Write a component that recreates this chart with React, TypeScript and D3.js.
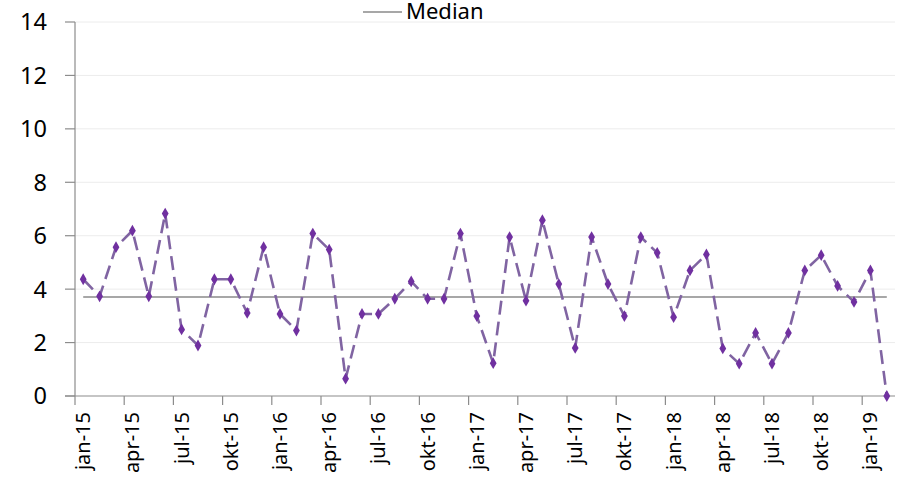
import React from "react";
import * as d3 from "d3";

const months = [
  "jan-15","feb-15","mar-15","apr-15","mai-15","jun-15","jul-15","aug-15","sep-15","okt-15","nov-15","des-15",
  "jan-16","feb-16","mar-16","apr-16","mai-16","jun-16","jul-16","aug-16","sep-16","okt-16","nov-16","des-16",
  "jan-17","feb-17","mar-17","apr-17","mai-17","jun-17","jul-17","aug-17","sep-17","okt-17","nov-17","des-17",
  "jan-18","feb-18","mar-18","apr-18","mai-18","jun-18","jul-18","aug-18","sep-18","okt-18","nov-18","des-18",
  "jan-19","feb-19",
];

const values = [
  4.37, 3.73, 5.57, 6.19, 3.73, 6.83, 2.49, 1.89, 4.37, 4.37, 3.11, 5.57,
  3.07, 2.45, 6.08, 5.48, 0.65, 3.07, 3.07, 3.64, 4.29, 3.64, 3.64, 6.08,
  2.99, 1.23, 5.95, 3.57, 6.58, 4.19, 1.80, 5.95, 4.19, 2.99, 5.95, 5.36,
  2.95, 4.70, 5.30, 1.78, 1.21, 2.36, 1.21, 2.36, 4.70, 5.27, 4.12, 3.52,
  4.70, 0.0,
];

const medianValue = 3.71;
const yTicks = [0, 2, 4, 6, 8, 10, 12, 14];
const tickLabels = months.filter((_, i) => i % 3 === 0);
const legendLabel = "Median";

const W = 900;
const H = 478;
const plotLeft = 75;
const plotRight = 895;
const plotTop = 22;
const plotBottom = 396;

export default function App() {
  const x = d3.scaleBand<string>().domain(months).range([plotLeft, plotRight]).padding(0);
  const cx = (m: string) => (x(m) as number) + x.bandwidth() / 2;
  const y = d3.scaleLinear().domain([0, 14]).range([plotBottom, plotTop]);

  const data = months.map((m, i) => ({ m, v: values[i] }));
  const line = d3
    .line<{ m: string; v: number }>()
    .x((d) => cx(d.m))
    .y((d) => y(d.v));

  const diamond = d3.symbol().type(d3.symbolDiamond).size(40)() as string;
  const font = "'Noto Sans', 'Open Sans', sans-serif";

  return (
    <svg
      width={W}
      height={H}
      style={{ position: "absolute", left: 0, top: 0, display: "block", background: "#fff" }}
    >
      {/* gridlines */}
      {yTicks.slice(1).map((t) => (
        <line key={"g" + t} x1={plotLeft} x2={plotRight} y1={y(t)} y2={y(t)} stroke="#ececec" strokeWidth={1} />
      ))}
      {/* y axis */}
      <line x1={plotLeft} x2={plotLeft} y1={plotTop} y2={plotBottom} stroke="#8c8c8c" strokeWidth={1.2} />
      {yTicks.map((t) => (
        <g key={"y" + t}>
          <line x1={plotLeft - 10} x2={plotLeft} y1={y(t)} y2={y(t)} stroke="#8c8c8c" strokeWidth={1.2} />
          <text x={47} y={y(t)} dy="0.36em" textAnchor="end" fontFamily={font} fontSize={23.5} fill="#000">
            {t}
          </text>
        </g>
      ))}
      {/* x axis */}
      <line x1={plotLeft - 10} x2={plotRight} y1={plotBottom} y2={plotBottom} stroke="#8c8c8c" strokeWidth={1.2} />
      {months.map((m, i) =>
        i % 3 === 0 ? (
          <line key={"xt" + m} x1={x(m) as number} x2={x(m) as number} y1={plotBottom} y2={plotBottom + 9} stroke="#8c8c8c" strokeWidth={1.2} />
        ) : null
      )}
      {tickLabels.map((m) => (
        <text
          key={"xl" + m}
          transform={`translate(${cx(m)},${plotBottom + 16}) rotate(-90)`}
          textAnchor="end"
          dy="0.35em"
          fontFamily={font}
          fontSize={20}
          fill="#000"
        >
          {m}
        </text>
      ))}
      {/* median */}
      <line
        x1={cx(months[0])}
        x2={cx(months[months.length - 1])}
        y1={y(medianValue)}
        y2={y(medianValue)}
        stroke="#8a8a8a"
        strokeWidth={1.5}
      />
      {/* series */}
      <path d={line(data) as string} fill="none" stroke="#8064A2" strokeWidth={2.6} strokeDasharray="14,7" />
      {data.map((d) => (
        <path key={"p" + d.m} d={diamond} transform={`translate(${cx(d.m)},${y(d.v)})`} fill="#7030A0" />
      ))}
      {/* legend */}
      <line x1={363} x2={402} y1={12} y2={12} stroke="#8a8a8a" strokeWidth={1.5} />
      <text x={406} y={18.5} fontFamily={font} fontSize={22} fill="#000">
        {legendLabel}
      </text>
    </svg>
  );
}
